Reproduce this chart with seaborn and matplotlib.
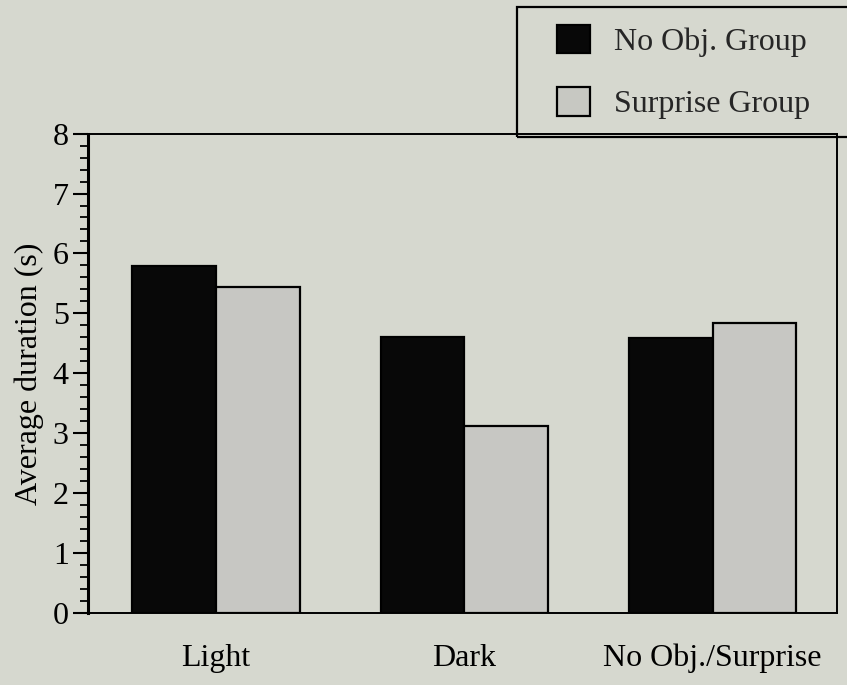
#!/usr/bin/env python
# Average duration bar chart (No Obj. vs Surprise group)

import numpy as np
import pandas as pd
import matplotlib
matplotlib.use("Agg")
import matplotlib.pyplot as plt
from matplotlib.ticker import MultipleLocator
from matplotlib.patches import Patch, Rectangle
import seaborn as sns

# Data
conditions = ['Light', 'Dark', 'No Obj./Surprise']
groups = ['No Obj. Group', 'Surprise Group']
no_obj = [5.79, 4.61, 4.59]
surprise = [5.44, 3.12, 4.84]

df = pd.DataFrame({
    'condition': conditions * 2,
    'group': [groups[0]] * 3 + [groups[1]] * 3,
    'duration': no_obj + surprise,
})

bg = '#d6d8cf'
colors = ['#080808', '#c7c8c2']
sns.set_theme(style='ticks')
plt.rcParams['font.family'] = ['Liberation Serif', 'DejaVu Serif']
plt.rcParams['font.size'] = 23

W, H = 847, 685
fig = plt.figure(figsize=(W / 100, H / 100), dpi=100, facecolor=bg)
ax = fig.add_axes([0.104, 0.105, 0.884, 0.700])
ax.set_facecolor(bg)

sns.barplot(data=df, x='condition', y='duration', hue='group',
            palette=colors, width=0.675,
            edgecolor='black', linewidth=1.6, ax=ax, legend=False)

ax.set_xlim(-0.515, 2.5)
ax.set_ylim(0, 8)
ax.yaxis.set_major_locator(MultipleLocator(1))
ax.yaxis.set_minor_locator(MultipleLocator(0.2))
ax.tick_params(axis='y', which='major', length=11, width=1.5, labelsize=23,
               colors='black', pad=3)
ax.tick_params(axis='y', which='minor', length=5.5, width=1.3, colors='black')
ax.tick_params(axis='x', length=0, labelsize=23, pad=22, colors='black')
for s in ax.spines.values():
    s.set_visible(True)
    s.set_color('black')
    s.set_linewidth(1.4)
ax.spines['left'].set_linewidth(2.2)

ax.set_xlabel('')
ax.set_ylabel('Average duration (s)', fontsize=23, color='black', labelpad=6)

# Legend (box runs off the right edge like the original)
handles = [Patch(facecolor=c, edgecolor='black', linewidth=1.6) for c in colors]
fig.legend(handles, groups, loc='upper left',
           bbox_to_anchor=(539 / W, 1 - 7 / H),
           frameon=False, fontsize=23,
           handlelength=1.05, handleheight=1.0, handletextpad=0.75,
           labelspacing=0.95, borderpad=0.55, borderaxespad=0)
fig.add_artist(Rectangle((517 / W, 1 - 137 / H), 340 / W, 130 / H,
                         transform=fig.transFigure, facecolor='none',
                         edgecolor='black', linewidth=1.6))

plt.savefig('out.png', dpi=100, facecolor=bg)
plt.close()
